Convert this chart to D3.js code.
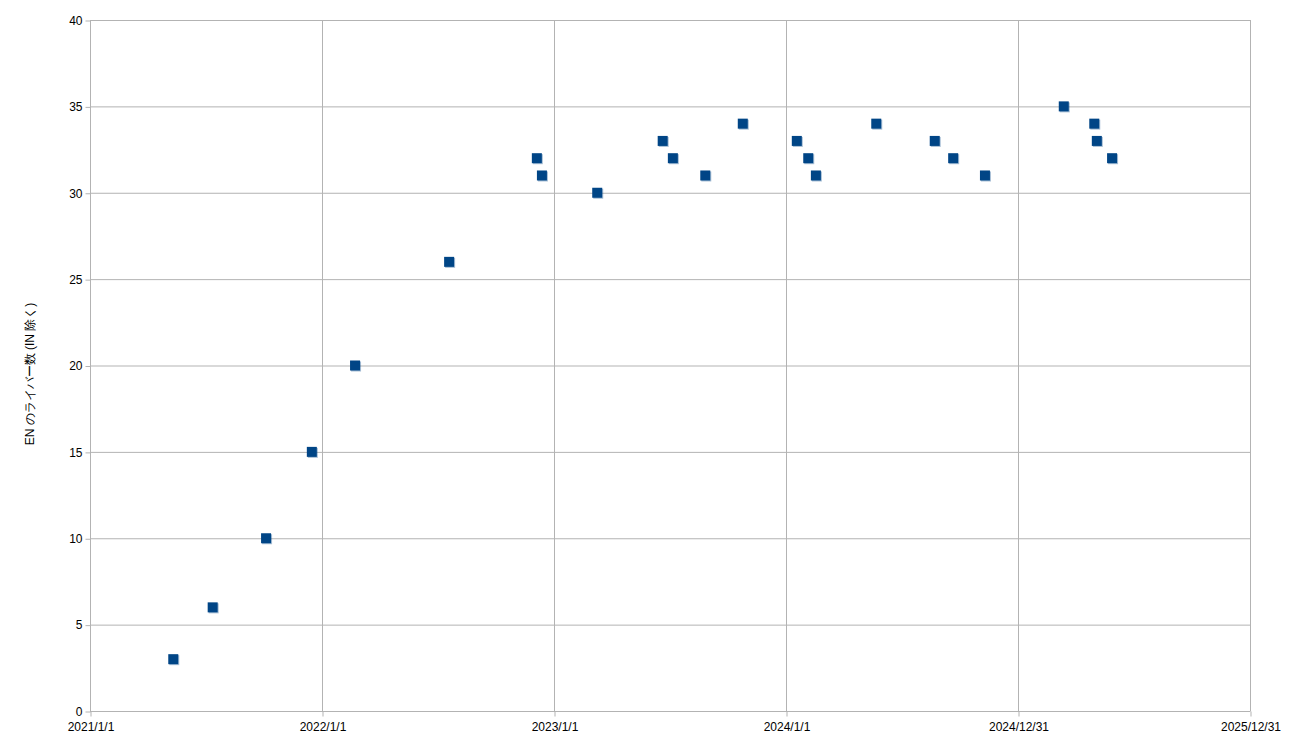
<!DOCTYPE html>
<html><head><meta charset="utf-8">
<script src="https://cdn.jsdelivr.net/npm/d3@7"></script>
<style>body{margin:0;background:#fff}svg{display:block}text{font-family:"Liberation Sans",Arial,sans-serif}</style>
</head><body><svg id="c" width="1300" height="750"></svg>
<script>
const dates = ["2021-05-12","2021-07-13","2021-10-05","2021-12-16","2022-02-22","2022-07-20","2022-12-05","2022-12-13","2023-03-10","2023-06-21","2023-07-07","2023-08-27","2023-10-25","2024-01-18","2024-02-05","2024-02-17","2024-05-22","2024-08-22","2024-09-20","2024-11-09","2025-03-13","2025-04-30","2025-05-04","2025-05-28"];
const values = [3,6,10,15,20,26,32,31,30,33,32,31,34,33,32,31,34,33,32,31,35,34,33,32];
const xTicks = ["2021-01-01","2022-01-01","2023-01-01","2024-01-01","2024-12-31","2025-12-31"];
const xTickLabels = ["2021/1/1","2022/1/1","2023/1/1","2024/1/1","2024/12/31","2025/12/31"];
const yTicks = [0,5,10,15,20,25,30,35,40];
const yTitle = "EN のライバー数 (IN 除く)";

const parse = d3.utcParse("%Y-%m-%d");
const svg = d3.select("#c");
const L=90,R=1250,T=20,B=711;
const x = d3.scaleUtc().domain([parse(xTicks[0]), parse(xTicks[xTicks.length-1])]).range([L,R]);
const y = d3.scaleLinear().domain([0,40]).range([B,T]);
const grid="#b3b3b3";

// grid
svg.append("g").selectAll("line").data(yTicks).join("line")
  .attr("x1",L).attr("x2",R).attr("y1",d=>y(d)+0.5).attr("y2",d=>y(d)+0.5)
  .attr("stroke",grid).attr("stroke-width",1);
svg.append("g").selectAll("line").data(xTicks).join("line")
  .attr("x1",d=>Math.round(x(parse(d)))+0.5).attr("x2",d=>Math.round(x(parse(d)))+0.5)
  .attr("y1",T).attr("y2",B).attr("stroke",grid).attr("stroke-width",1);

// axes
const ya = d3.axisLeft(y).tickValues(yTicks).tickSize(5).tickPadding(3).tickFormat(d3.format("d"));
const yg = svg.append("g").attr("transform",`translate(${L+0.5},0.5)`).call(ya);
const xa = d3.axisBottom(x).tickValues(xTicks.map(parse)).tickSize(5).tickPadding(6)
  .tickFormat((d,i)=>xTickLabels[i]);
const xg = svg.append("g").attr("transform",`translate(0.5,${B+0.5})`).call(xa);
[yg,xg].forEach(g=>{
  g.select(".domain").attr("stroke",grid);
  g.selectAll(".tick line").attr("stroke",grid);
  g.selectAll("text").attr("fill","#000").style("font-size","12px").style("font-family",'"Liberation Sans",Arial,sans-serif');
});
yg.select(".domain").attr("d",`M0,${T-0.5}V${B}`);
xg.select(".domain").attr("d",`M${L},0H${R}`);
xg.selectAll("text").attr("dy","0.71em");

// title
svg.append("text").attr("transform",`translate(34,374) rotate(-90)`)
  .attr("text-anchor","middle").style("font-size","12px").attr("fill","#000").text(yTitle);

// points
const pts = dates.map((d,i)=>({d:parse(d),v:values[i]}));
const s=10;
svg.append("g").selectAll("rect").data(pts).join("rect")
  .attr("x",p=>x(p.d)-s/2+1).attr("y",p=>y(p.v)-s/2+1).attr("width",s).attr("height",s)
  .attr("fill","#004586").attr("fill-opacity",0.35);
svg.append("g").selectAll("rect").data(pts).join("rect")
  .attr("x",p=>x(p.d)-s/2).attr("y",p=>y(p.v)-s/2).attr("width",s).attr("height",s)
  .attr("fill","#004586");
</script></body></html>
